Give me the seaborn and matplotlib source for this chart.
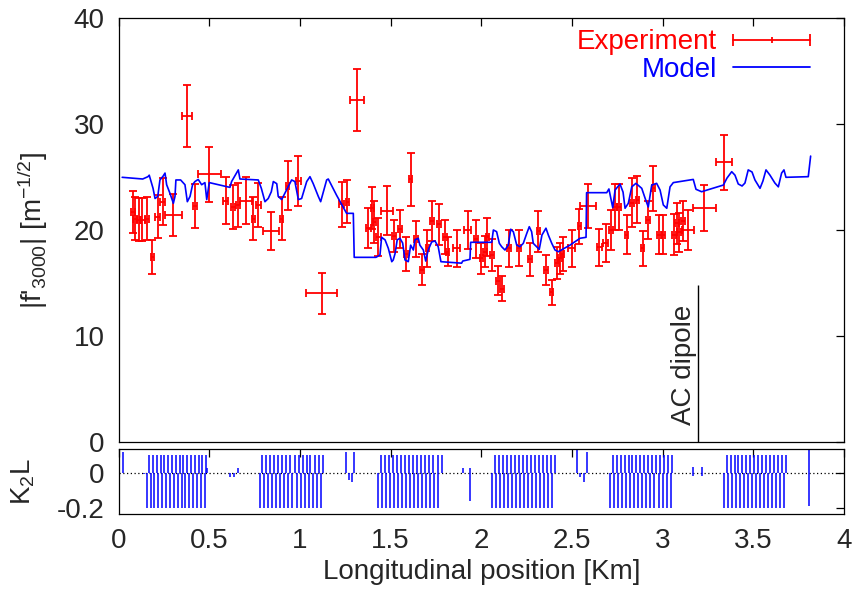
import numpy as np
import pandas as pd
import matplotlib
matplotlib.use("Agg")
import matplotlib.pyplot as plt
import seaborn as sns
from matplotlib.lines import Line2D
from matplotlib.legend_handler import HandlerBase

# ---------------- data ----------------
exp_x = [0.078, 0.090, 0.112, 0.131, 0.155, 0.186, 0.215, 0.243, 0.302, 0.377,
         0.421, 0.500, 0.590, 0.632, 0.660, 0.702, 0.743, 0.770, 0.840, 0.899,
         0.932, 0.991, 1.120, 1.230, 1.261, 1.313, 1.377, 1.399, 1.410, 1.432,
         1.478, 1.520, 1.551, 1.583, 1.610, 1.640, 1.671, 1.702, 1.729, 1.766,
         1.800, 1.814, 1.864, 1.924, 1.970, 2.000, 2.020, 2.033, 2.057, 2.093,
         2.115, 2.152, 2.207, 2.268, 2.314, 2.356, 2.387, 2.418, 2.433, 2.448,
         2.498, 2.540, 2.590, 2.650, 2.685, 2.713, 2.737, 2.760, 2.801, 2.829,
         2.860, 2.889, 2.920, 2.948, 2.979, 3.003, 3.062, 3.077, 3.091, 3.110,
         3.140, 3.229, 3.337]
exp_y = [21.7, 21.1, 21.0, 21.0, 21.1, 17.5, 21.3, 22.7, 21.45, 30.8,
         22.3, 25.3, 22.8, 22.2, 22.4, 22.8, 21.1, 22.4, 19.9, 21.1,
         24.2, 24.65, 14.05, 22.45, 22.7, 32.3, 20.2, 22.1, 20.8, 19.4,
         21.85, 19.45, 20.1, 17.8, 24.8, 19.15, 16.3, 18.3, 20.9, 20.55,
         19.4, 18.0, 18.3, 20.0, 19.15, 17.35, 18.0, 19.35, 17.7, 15.25,
         14.5, 18.3, 18.3, 17.25, 19.9, 16.25, 14.15, 16.9, 17.35, 17.8,
         18.3, 20.4, 22.3, 18.4, 18.8, 20.0, 22.2, 22.2, 19.6, 22.6,
         22.9, 18.3, 20.97, 23.96, 19.6, 19.6, 19.6, 20.65, 19.8, 20.9,
         20.0, 22.1, 26.4]
exp_xerr = [0.012, 0.012, 0.012, 0.012, 0.012, 0.010, 0.012, 0.012, 0.048, 0.026,
            0.012, 0.064, 0.014, 0.012, 0.012, 0.034, 0.010, 0.014, 0.046, 0.010,
            0.010, 0.014, 0.085, 0.014, 0.010, 0.040, 0.014, 0.010, 0.010, 0.012,
            0.033, 0.010, 0.010, 0.010, 0.010, 0.010, 0.010, 0.010, 0.010, 0.012,
            0.010, 0.010, 0.020, 0.020, 0.010, 0.010, 0.010, 0.010, 0.010, 0.010,
            0.010, 0.010, 0.010, 0.010, 0.010, 0.010, 0.010, 0.010, 0.010, 0.010,
            0.020, 0.010, 0.044, 0.014, 0.014, 0.010, 0.010, 0.010, 0.010, 0.010,
            0.010, 0.010, 0.010, 0.010, 0.010, 0.010, 0.010, 0.010, 0.010, 0.010,
            0.033, 0.063, 0.045]
exp_yerr = [2.0, 2.0, 2.05, 2.05, 2.05, 1.6, 2.0, 2.2, 1.95, 2.9,
            2.1, 2.6, 2.2, 2.1, 2.1, 2.2, 2.0, 2.1, 1.8, 2.0,
            2.3, 2.4, 1.9, 2.1, 2.0, 2.9, 1.9, 2.0, 2.0, 1.8,
            2.3, 1.5, 1.8, 1.6, 2.5, 1.7, 1.5, 1.75, 1.9, 1.9,
            1.6, 1.4, 1.75, 1.8, 1.8, 1.45, 1.5, 1.8, 1.5, 1.35,
            1.2, 1.75, 1.7, 1.55, 1.9, 1.4, 1.2, 1.5, 1.5, 1.6,
            1.75, 1.65, 2.1, 1.75, 1.8, 1.9, 2.15, 2.15, 1.8, 2.3,
            2.2, 1.65, 1.8, 2.1, 1.8, 1.8, 1.9, 1.9, 1.8, 1.9,
            1.9, 2.15, 2.6]

model_x = [0.020, 0.133, 0.162, 0.169, 0.190, 0.201, 0.216, 0.228, 0.245, 0.256,
           0.265, 0.283, 0.302, 0.311, 0.316, 0.342, 0.366, 0.379, 0.394, 0.408,
           0.421, 0.439, 0.458, 0.476, 0.486, 0.500, 0.614, 0.623, 0.660, 0.669,
           0.770, 0.787, 0.807, 0.825, 0.842, 0.853, 0.872, 0.880, 0.899, 0.917,
           0.935, 0.954, 0.972, 0.991, 1.009, 1.037, 1.055, 1.073, 1.101, 1.114,
           1.147, 1.156, 1.202, 1.257, 1.294, 1.299, 1.419, 1.441, 1.450, 1.469,
           1.487, 1.506, 1.514, 1.524, 1.536, 1.551, 1.566, 1.579, 1.597, 1.610,
           1.625, 1.634, 1.652, 1.661, 1.680, 1.693, 1.707, 1.726, 1.744, 1.762,
           1.777, 1.891, 1.897, 1.937, 1.941, 2.057, 2.066, 2.084, 2.099, 2.112,
           2.130, 2.148, 2.162, 2.176, 2.195, 2.213, 2.231, 2.250, 2.264, 2.277,
           2.286, 2.305, 2.319, 2.334, 2.356, 2.369, 2.388, 2.406, 2.424, 2.488,
           2.544, 2.577, 2.580, 2.691, 2.703, 2.724, 2.737, 2.764, 2.781, 2.792,
           2.810, 2.829, 2.852, 2.884, 2.902, 2.920, 2.939, 2.966, 2.985, 3.003,
           3.022, 3.040, 3.058, 3.168, 3.183, 3.214, 3.334, 3.354, 3.380, 3.398,
           3.416, 3.437, 3.453, 3.471, 3.492, 3.508, 3.536, 3.552, 3.569, 3.591,
           3.618, 3.637, 3.655, 3.668, 3.679, 3.802, 3.815]
model_y = [25.0, 24.84, 25.06, 25.2, 23.96, 23.0, 23.2, 24.75, 25.1, 25.4,
           24.3, 23.5, 22.55, 23.2, 24.75, 24.75, 24.3, 22.7, 23.2, 24.3,
           24.6, 24.8, 24.3, 24.5, 22.9, 24.5, 24.05, 24.6, 25.7, 24.84,
           24.75, 23.96, 22.7, 23.0, 23.64, 24.6, 24.4, 23.2, 22.9, 23.5,
           24.1, 24.75, 24.6, 22.9, 23.0, 24.6, 25.06, 24.4, 23.2, 22.7,
           24.75, 24.84, 23.3, 21.6, 21.6, 17.45, 17.45, 17.67, 19.34, 19.1,
           18.3, 17.04, 17.2, 17.8, 19.1, 19.25, 18.8, 17.2, 17.04, 18.6,
           18.14, 19.1, 19.25, 18.6, 18.14, 17.1, 18.14, 18.9, 19.0, 18.45,
           17.04, 16.9, 17.1, 17.26, 18.87, 18.87, 20.03, 19.87, 18.77, 18.45,
           18.14, 18.6, 20.1, 19.87, 18.6, 18.45, 18.77, 19.7, 20.34, 19.87,
           18.77, 18.45, 18.2, 19.56, 20.2, 19.56, 18.77, 18.14, 17.98, 18.6,
           19.25, 19.34, 23.55, 23.55, 23.9, 22.15, 23.8, 24.37, 23.6, 22.08,
           22.55, 24.1, 24.43, 23.96, 23.05, 22.2, 24.27, 24.43, 23.8, 22.39,
           22.08, 24.1, 24.5, 24.8, 23.87, 23.64, 24.27, 24.93, 25.53, 25.2,
           24.37, 24.18, 24.46, 25.7, 25.5, 24.75, 23.96, 24.65, 25.7, 25.2,
           24.46, 24.1, 25.4, 25.7, 25.0, 25.06, 27.0]

# quadrupole-like K2L impulses (position [km], value)
k2l_pos_x = [0.169, 0.190, 0.211, 0.232, 0.253, 0.274, 0.294, 0.315, 0.336, 0.357, 0.378, 0.399, 0.420, 0.441, 0.461, 0.482,
             0.792, 0.814, 0.836, 0.859, 0.881, 0.903, 0.925, 0.947, 0.970, 0.992, 1.014, 1.036, 1.058, 1.081, 1.103, 1.125,
             1.445, 1.467, 1.490, 1.512, 1.535, 1.557, 1.579, 1.602, 1.624, 1.647, 1.669, 1.691, 1.714, 1.736, 1.759, 1.781,
             2.075, 2.097, 2.119, 2.141, 2.163, 2.185, 2.208, 2.230, 2.252, 2.274, 2.296, 2.318, 2.340, 2.362, 2.384, 2.406,
             2.724, 2.746, 2.768, 2.790, 2.812, 2.833, 2.855, 2.877, 2.899, 2.921, 2.943, 2.965, 2.987, 3.008, 3.030, 3.052,
             3.352, 3.374, 3.396, 3.417, 3.439, 3.461, 3.483, 3.505, 3.526, 3.548, 3.570, 3.592, 3.614, 3.635, 3.657, 3.679]
k2l_pos_val = 0.105
k2l_neg_x = [0.155, 0.176, 0.198, 0.219, 0.240, 0.262, 0.283, 0.304, 0.326, 0.347, 0.368, 0.390, 0.411, 0.432, 0.454, 0.475,
             0.780, 0.802, 0.825, 0.847, 0.869, 0.891, 0.914, 0.936, 0.958, 0.981, 1.003, 1.025, 1.047, 1.070, 1.092, 1.114,
             1.432, 1.454, 1.476, 1.498, 1.520, 1.542, 1.564, 1.586, 1.608, 1.630, 1.652, 1.674, 1.696, 1.718, 1.740, 1.762,
             2.057, 2.079, 2.101, 2.123, 2.145, 2.167, 2.189, 2.211, 2.234, 2.256, 2.278, 2.300, 2.322, 2.344, 2.366, 2.388,
             2.709, 2.731, 2.754, 2.776, 2.798, 2.821, 2.843, 2.865, 2.887, 2.910, 2.932, 2.954, 2.977, 2.999, 3.021, 3.044,
             3.337, 3.359, 3.381, 3.403, 3.425, 3.447, 3.469, 3.492, 3.514, 3.536, 3.558, 3.580, 3.602, 3.624, 3.646, 3.668]
k2l_neg_val = -0.2
k2l_extra_x = [0.023, 0.140, 0.488, 0.615, 0.635, 0.660, 1.254, 1.270, 1.285, 1.298,
               1.897, 1.937, 1.937, 2.529, 2.545, 2.566, 2.580, 3.168, 3.168, 3.215, 3.215,
               3.808, 3.808]
k2l_extra_val = [0.12, -0.008, 0.03, -0.025, -0.025, 0.03, 0.12, -0.04, -0.05, 0.12,
                 0.03, 0.03, -0.16, 0.13, -0.02, -0.05, 0.12, 0.035, -0.015, 0.035, -0.015,
                 0.14, -0.19]

x_ticks = [0, 0.5, 1, 1.5, 2, 2.5, 3, 3.5, 4]
x_tick_labels = ["0", "0.5", "1", "1.5", "2", "2.5", "3", "3.5", "4"]
y_ticks = [0, 10, 20, 30, 40]
k_ticks = [0, -0.2]
k_tick_labels = ["0", "-0.2"]
dipole_x = 3.194
dipole_top = 14.84

# ---------------- style ----------------
sns.set_theme(style="white")
plt.rcParams["font.family"] = ["Liberation Sans", "DejaVu Sans"]
plt.rcParams["mathtext.fontset"] = "custom"
plt.rcParams["mathtext.rm"] = "Liberation Sans"
plt.rcParams["mathtext.it"] = "Liberation Sans:italic"
plt.rcParams["axes.unicode_minus"] = False
FS = 20

fig = plt.figure(figsize=(8.58, 6), dpi=100)
ax = fig.add_axes([0.1382, 0.2628, 0.8457, 0.7067])
axb = fig.add_axes([0.1382, 0.1433, 0.8457, 0.1083])

# ---------------- main panel ----------------
ax.errorbar(exp_x, exp_y, xerr=exp_xerr, yerr=exp_yerr, fmt="none",
            ecolor="#ff0000", elinewidth=1.3, capsize=3.0, capthick=1.3, zorder=3)
model_df = pd.DataFrame({"x": model_x, "y": model_y})
sns.lineplot(data=model_df, x="x", y="y", sort=False, estimator=None,
             color="#0000ff", lw=1.2, ax=ax, zorder=4)

ax.vlines(dipole_x, 0, dipole_top, color="black", lw=1.0)
ax.text(3.118, 1.6, "AC dipole", rotation=90, ha="center", va="bottom", fontsize=FS)

ax.set_xlim(0, 4)
ax.set_ylim(0, 40)
ax.set_xticks(x_ticks)
ax.set_yticks(y_ticks)
ax.set_xlabel("")
ax.set_ylabel("|f'$_{3000}$| [m$^{-1/2}$]", fontsize=FS)
ax.yaxis.set_label_coords(-0.095, 0.5)
ax.tick_params(axis="both", direction="in", length=6, width=0.9, color="black",
               top=True, right=True, labelbottom=False, labelsize=FS, pad=10)


class XErrHandler(HandlerBase):
    def create_artists(self, legend, orig_handle, xdescent, ydescent,
                       width, height, fontsize, trans):
        y = height / 2 - ydescent
        x0, x1 = -xdescent, width - xdescent
        line = Line2D([x0, x1], [y, y], color="#ff0000", lw=1.3, transform=trans)
        caps = Line2D([x0, x1], [y, y], ls="none", marker="|", ms=8, mew=1.3,
                      color="#ff0000", transform=trans)
        mid = Line2D([(x0 + x1) / 2], [y], ls="none", marker="|", ms=4, mew=1.3,
                     color="#ff0000", transform=trans)
        return [line, caps, mid]


h_exp = Line2D([], [], color="#ff0000")
h_mod = Line2D([], [], color="#0000ff", lw=1.3)
leg = ax.legend([h_exp, h_mod], ["Experiment", "Model"],
                handler_map={h_exp: XErrHandler()},
                loc="upper right", bbox_to_anchor=(0.968, 1.0), borderaxespad=0.0,
                frameon=False, markerfirst=False, fontsize=FS,
                handlelength=2.75, handletextpad=0.6, labelspacing=0.05)
for t, c in zip(leg.get_texts(), ["#ff0000", "#0000ff"]):
    t.set_color(c)

# ---------------- bottom panel ----------------
axb.axhline(0, color="black", lw=0.9, ls=(0, (1, 2)))
axb.vlines(k2l_pos_x, 0, k2l_pos_val, color="#0000ff", lw=1.1)
axb.vlines(k2l_neg_x, 0, k2l_neg_val, color="#0000ff", lw=1.1)
axb.vlines(k2l_extra_x, 0, k2l_extra_val, color="#0000ff", lw=1.1)
axb.set_xlim(0, 4)
axb.set_ylim(-0.234, 0.137)
axb.set_xticks(x_ticks)
axb.set_xticklabels(x_tick_labels)
axb.set_yticks(k_ticks)
axb.set_yticklabels(k_tick_labels)
axb.tick_params(axis="both", direction="in", length=6, width=0.9, color="black",
                top=True, right=True, labelsize=FS, pad=10)
axb.set_xlabel("Longitudinal position [Km]", fontsize=FS)
axb.set_ylabel("K$_2$L", fontsize=FS)
axb.yaxis.set_label_coords(-0.112, 0.5)

for a in (ax, axb):
    for s in a.spines.values():
        s.set_color("black")
        s.set_linewidth(0.9)
        s.set_visible(True)

fig.savefig("out.png", dpi=100)
